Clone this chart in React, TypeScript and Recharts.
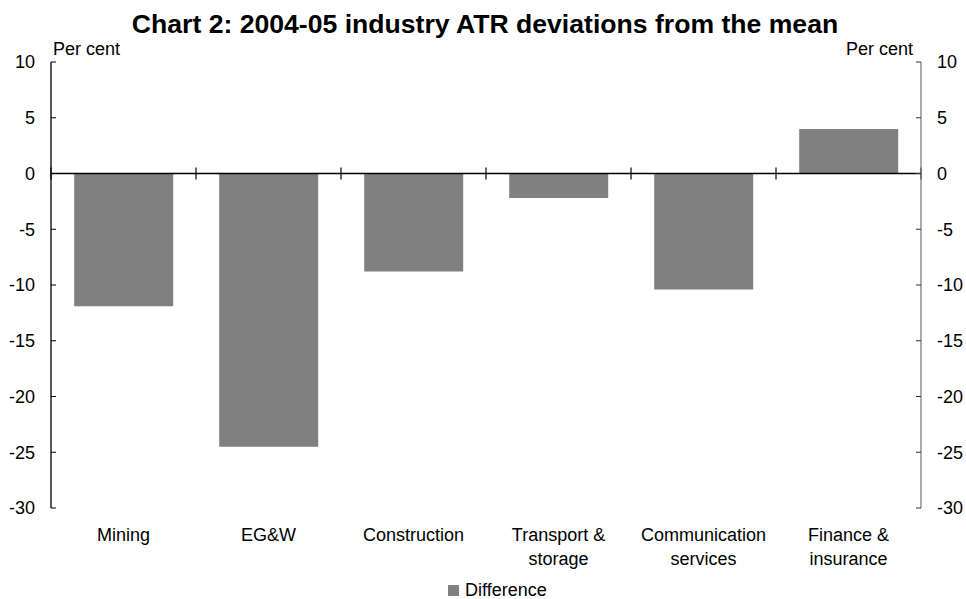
import React from "react";
import { BarChart, Bar, Line, XAxis, YAxis, ReferenceLine, Legend } from "recharts";

// Chart 2: 2004-05 industry ATR deviations from the mean
const categories = [
  "Mining",
  "EG&W",
  "Construction",
  "Transport &\nstorage",
  "Communication\nservices",
  "Finance &\ninsurance",
];
const difference = [-11.9, -24.5, -8.8, -2.2, -10.4, 4.0];
const yTicks = [10, 5, 0, -5, -10, -15, -20, -25, -30];

const FONT = '"Liberation Sans", Arial, sans-serif';
const BAR_GREY = "#808080";

const data = categories.map((category, i) => ({
  category,
  difference: difference[i],
}));

function CategoryTick(props: any) {
  const { x, y, payload } = props;
  const lines = String(payload.value).split("\n");
  return (
    <text x={x} y={y} textAnchor="middle" fontFamily={FONT} fontSize={18} fill="#000">
      {lines.map((line, i) => (
        <tspan key={i} x={x} dy={i === 0 ? 33 : 24}>
          {line}
        </tspan>
      ))}
    </text>
  );
}

// zero line with the category boundary ticks crossing it
function ZeroLine(props: any) {
  const { x1, x2, y1 } = props;
  const step = (x2 - x1) / categories.length;
  const bounds = Array.from({ length: categories.length + 1 }, (_, i) => x1 + i * step);
  return (
    <g>
      <line x1={x1} x2={x2} y1={y1} y2={y1} stroke="#000" strokeWidth={1.3} />
      {bounds.map((bx, i) => (
        <line key={i} x1={bx} x2={bx} y1={y1 - 6} y2={y1 + 6} stroke="#000" strokeWidth={1.2} />
      ))}
    </g>
  );
}

function LegendContent(props: any) {
  const items = (props.payload || []).filter((p: any) => p.type !== "none");
  return (
    <div style={{ display: "flex", alignItems: "center", fontFamily: FONT, fontSize: 18, color: "#000" }}>
      {items.map((p: any) => (
        <span key={p.value} style={{ display: "flex", alignItems: "center" }}>
          <span style={{ width: 11, height: 11, background: BAR_GREY, display: "inline-block", marginRight: 6 }} />
          {p.value}
        </span>
      ))}
    </div>
  );
}

export default function App() {
  const tick = { fill: "#000", fontSize: 18, fontFamily: FONT };
  return (
    <div style={{ position: "absolute", left: 0, top: 0, width: 966, height: 599, background: "#fff" }}>
      <div
        style={{
          position: "absolute",
          top: 11,
          left: 0,
          width: 966,
          textAlign: "center",
          fontFamily: FONT,
          fontWeight: "bold",
          fontSize: 26.6,
          lineHeight: "26px",
          paddingLeft: 2,
        }}
      >
        Chart 2: 2004-05 industry ATR deviations from the mean
      </div>
      <div style={{ position: "absolute", top: 40, left: 53, fontFamily: FONT, fontSize: 18, lineHeight: "18px" }}>
        Per cent
      </div>
      <div style={{ position: "absolute", top: 40, right: 53, fontFamily: FONT, fontSize: 18, lineHeight: "18px" }}>
        Per cent
      </div>
      <BarChart
        width={966}
        height={599}
        data={data}
        margin={{ top: 62, right: 0, bottom: 0, left: 0 }}
        barCategoryGap="16%"
      >
        <XAxis
          dataKey="category"
          height={91}
          axisLine={false}
          tickLine={false}
          tickSize={0}
          tickMargin={0}
          interval={0}
          tick={<CategoryTick />}
        />
        <YAxis
          yAxisId="left"
          width={51}
          domain={[-30, 10]}
          ticks={yTicks}
          interval={0}
          axisLine={{ stroke: "#000", strokeWidth: 1.3 }}
          tickLine={{ stroke: "#000" }}
          tickSize={-5}
          tickMargin={21}
          tick={tick}
        />
        <YAxis
          yAxisId="right"
          orientation="right"
          width={45}
          domain={[-30, 10]}
          ticks={yTicks}
          interval={0}
          axisLine={{ stroke: BAR_GREY, strokeWidth: 1.3 }}
          tickLine={{ stroke: "#333" }}
          tickSize={-5}
          tickMargin={21}
          tick={tick}
        />
        <Bar
          yAxisId="left"
          dataKey="difference"
          name="Difference"
          fill={BAR_GREY}
          isAnimationActive={false}
        />
        {/* invisible series so the right-hand axis gets its scale */}
        <Line
          yAxisId="right"
          dataKey="difference"
          stroke="none"
          dot={false}
          activeDot={false}
          legendType="none"
          isAnimationActive={false}
        />
        <ReferenceLine yAxisId="left" y={0} shape={<ZeroLine />} />
        <Legend
          layout="horizontal"
          verticalAlign="middle"
          align="center"
          wrapperStyle={{ top: 580, left: 448, width: "auto" }}
          content={<LegendContent />}
        />
      </BarChart>
    </div>
  );
}
